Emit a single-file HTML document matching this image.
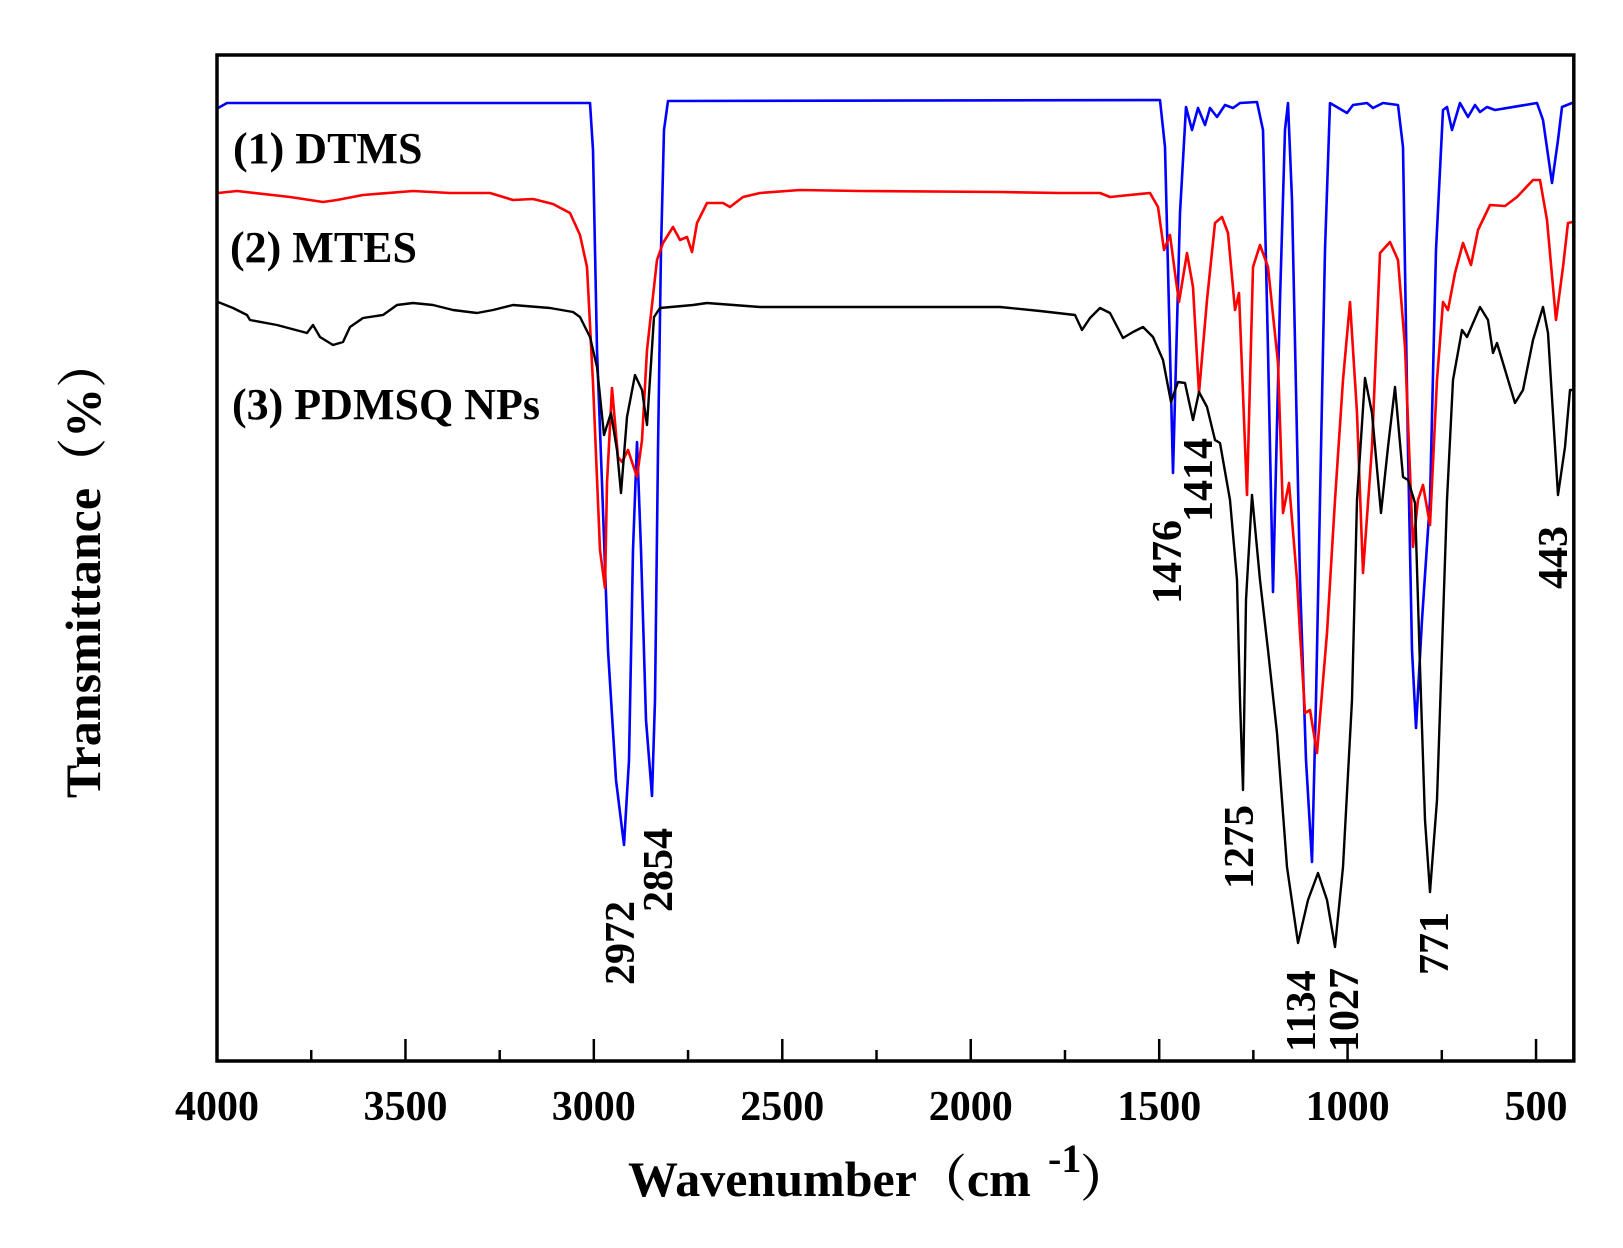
<!DOCTYPE html>
<html><head><meta charset="utf-8"><style>
html,body{margin:0;padding:0;background:#fff;}
svg{display:block;}
text{font-family:"Liberation Serif","Noto Serif CJK SC",serif;font-weight:bold;fill:#000;}
</style></head><body>
<svg width="1623" height="1248" viewBox="0 0 1623 1248" xmlns="http://www.w3.org/2000/svg">
<defs><clipPath id="c"><rect x="217" y="50" width="1357" height="1015"/></clipPath></defs>
<rect width="1623" height="1248" fill="#fff"/>
<g clip-path="url(#c)">
<polyline fill="none" stroke="#0000ff" stroke-width="2.6" stroke-linejoin="round" points="
218,108 227,103 590,103 593,150 597,350 602,483 608,650 616,780 624,845 629,760 633,550 637,442 641,550 646,720 652,796 655,700 658,450 661,250 664,130 668,101
1160,100 1165,147 1173,473 1180,213 1186,107 1192,130 1198,108 1205,125 1210,108 1217,117 1225,105 1233,108 1240,103 1257,102 1263,130 1268,350 1273,592 1280,300 1285,130 1288,103 1292,200 1300,580 1306,760 1312,862 1316,700 1320,500 1325,250 1330,103 1347,113 1353,105 1367,103 1373,108 1383,103 1398,105 1403,147 1408,450 1412,650 1416,728 1422,620 1430,500 1436,250 1443,110 1447,107 1452,130 1460,103 1468,117 1475,105 1480,112 1487,107 1495,110 1537,103 1543,120 1552,183 1558,140 1562,107 1572,103 1582,103"/>
<polyline fill="none" stroke="#ff0000" stroke-width="2.6" stroke-linejoin="round" points="
218,193 237,191 290,197 323,202 337,200 363,195 413,191 450,193 490,193 513,200 533,199 553,204 570,213 580,235 587,267 593,383 600,550 605,588 607,483 612,388 618,457 622,462 628,450 637,477 642,440 647,350 657,260 663,243 673,227 680,240 687,237 692,252 697,223 707,203 723,203 730,207 743,197 760,193 800,190 860,191 1000,192 1060,193 1100,193 1110,197 1150,193 1158,207 1164,250 1170,235 1175,273 1179,302 1187,253 1193,287 1199,393 1207,300 1215,223 1222,217 1228,233 1235,310 1239,293 1247,495 1253,267 1260,245 1268,267 1278,363 1283,513 1289,483 1297,580 1300,633 1305,713 1310,710 1317,753 1327,633 1335,500 1343,380 1350,302 1357,413 1363,573 1372,447 1380,253 1390,242 1398,260 1405,347 1413,547 1418,500 1423,485 1430,525 1437,380 1443,302 1448,310 1455,273 1463,243 1471,265 1478,230 1490,205 1505,206 1517,197 1533,180 1540,180 1547,220 1556,320 1563,267 1568,223 1573,222 1582,222"/>
<polyline fill="none" stroke="#000" stroke-width="2.4" stroke-linejoin="round" points="
218,302 233,308 247,315 250,320 277,325 307,333 313,325 320,337 333,345 343,342 350,327 363,318 383,315 397,305 413,303 433,305 453,310 477,313 493,310 513,305 550,308 573,312 580,317 590,337 597,367 604,435 611,413 617,450 621,493 627,417 635,375 642,390 647,425 654,317 660,308 693,305 707,303 760,307 1000,307 1040,311 1075,315 1082,330 1090,318 1100,308 1110,313 1123,338 1133,332 1143,327 1153,337 1163,360 1171,402 1178,382 1185,383 1193,420 1199,392 1207,407 1215,440 1220,443 1230,500 1237,580 1240,700 1243,790 1246,600 1252,495 1260,580 1268,650 1277,733 1287,867 1298,943 1308,900 1318,873 1327,900 1335,947 1343,867 1352,700 1357,500 1365,378 1372,413 1381,513 1388,447 1395,387 1403,477 1408,480 1415,503 1420,667 1425,820 1430,892 1437,800 1442,650 1447,500 1453,380 1462,330 1467,337 1480,307 1488,320 1493,353 1497,343 1503,363 1515,403 1523,390 1533,340 1543,307 1548,333 1558,495 1565,447 1570,390 1582,390"/>
</g>
<g transform="translate(217,0) scale(0.994,1) translate(-217,0)">
<rect x="217" y="55" width="1365" height="1006" fill="none" stroke="#000" stroke-width="3.5"/>
<g stroke="#000" stroke-width="2.5">
<line x1="217" y1="1061" x2="217" y2="1039"/>
<line x1="311.8" y1="1061" x2="311.8" y2="1050"/>
<line x1="406.6" y1="1061" x2="406.6" y2="1039"/>
<line x1="501.4" y1="1061" x2="501.4" y2="1050"/>
<line x1="596.1" y1="1061" x2="596.1" y2="1039"/>
<line x1="690.9" y1="1061" x2="690.9" y2="1050"/>
<line x1="785.7" y1="1061" x2="785.7" y2="1039"/>
<line x1="880.5" y1="1061" x2="880.5" y2="1050"/>
<line x1="975.3" y1="1061" x2="975.3" y2="1039"/>
<line x1="1070.1" y1="1061" x2="1070.1" y2="1050"/>
<line x1="1164.9" y1="1061" x2="1164.9" y2="1039"/>
<line x1="1259.6" y1="1061" x2="1259.6" y2="1050"/>
<line x1="1354.4" y1="1061" x2="1354.4" y2="1039"/>
<line x1="1449.2" y1="1061" x2="1449.2" y2="1050"/>
<line x1="1544" y1="1061" x2="1544" y2="1039"/>
</g>
</g>
<g font-size="42" text-anchor="middle">
<text x="217" y="1120">4000</text>
<text x="405.5" y="1120">3500</text>
<text x="593.8" y="1120">3000</text>
<text x="782.3" y="1120">2500</text>
<text x="970.8" y="1120">2000</text>
<text x="1159.3" y="1120">1500</text>
<text x="1347.6" y="1120">1000</text>
<text x="1536" y="1120">500</text>
</g>
<text x="628" y="1196" font-size="50">Wavenumber（cm</text>
<text x="1048" y="1172" font-size="40">-1</text>
<text x="1080" y="1196" font-size="50">）</text>
<text transform="translate(100,568) rotate(-90)" font-size="50" text-anchor="middle">Transmittance（%）</text>
<g font-size="44">
<text x="233" y="163">(1) DTMS</text>
<text x="230" y="262">(2) MTES</text>
<text x="232" y="419">(3) PDMSQ NPs</text>
</g>
<g font-size="42">
<text transform="translate(634,985) rotate(-90)">2972</text>
<text transform="translate(672,912) rotate(-90)">2854</text>
<text transform="translate(1181,604) rotate(-90)">1476</text>
<text transform="translate(1212,522) rotate(-90)">1414</text>
<text transform="translate(1253,889) rotate(-90)">1275</text>
<text transform="translate(1315,1052) rotate(-90)">1134</text>
<text transform="translate(1358,1052) rotate(-90)">1027</text>
<text transform="translate(1448,975) rotate(-90)">771</text>
<text transform="translate(1567,589) rotate(-90)">443</text>
</g>
</svg>
</body></html>
